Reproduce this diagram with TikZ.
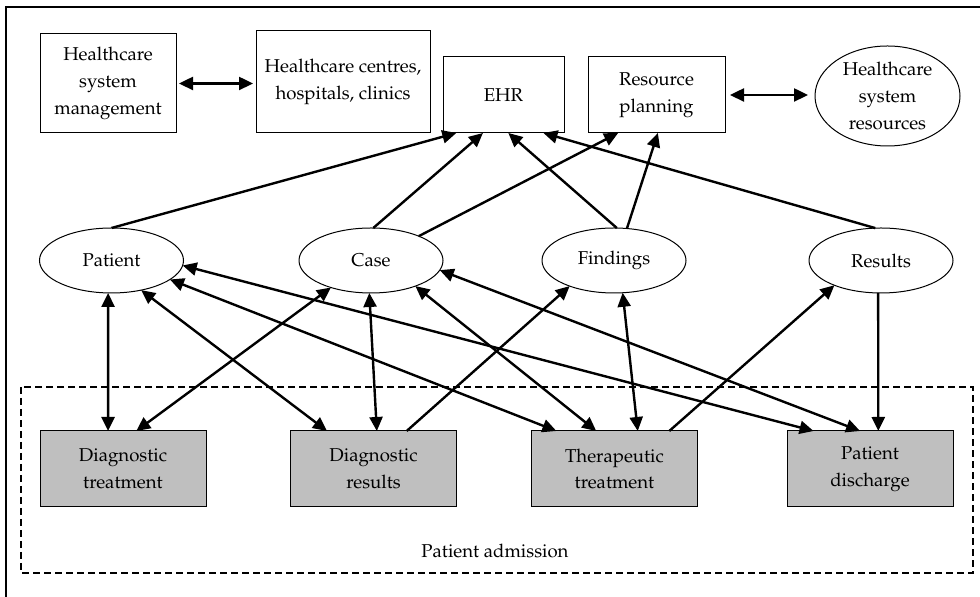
\documentclass[tikz,border=0pt]{standalone}
\usepackage[T1]{fontenc}
\usepackage{mathpazo}
\usetikzlibrary{shapes.geometric,arrows.meta,calc}
\newcommand{\dfont}{\fontsize{9.3}{13.3}\selectfont}
\begin{document}
\begin{tikzpicture}[x=0.5pt,y=-0.5pt,
  box/.style={draw, line width=0.5pt, inner sep=0pt, outer sep=0pt, align=center, font=\dfont},
  gbox/.style={box, fill=gray!50, minimum width=83pt, minimum height=38pt},
  ell/.style={ellipse, draw, line width=0.5pt, inner sep=0pt, outer sep=0pt, align=center, font=\dfont},
  mell/.style={ell, minimum width=72pt, minimum height=32.5pt},
  tip/.tip={Triangle[length=7pt,width=6.5pt]},
  link/.style={line width=1.2pt, -tip},
  dlink/.style={line width=1.2pt, tip-tip}]
\useasboundingbox (0,0) rectangle (980,597);
% outer frame (only top and left visible)
\draw[line width=0.8pt] (6,597) -- (6,7) -- (980,7);
% patient admission region
\draw[dashed, dash pattern=on 3.5pt off 2pt, line width=0.6pt] (21,387) rectangle (973,573);
\node[font=\dfont] (adm) at (495,551) {Patient admission};
% top row
\node[box, minimum width=68pt, minimum height=49.5pt] (hsm) at (108,83.5) {Healthcare\\system\\management};
\node[box, minimum width=87pt, minimum height=51pt] (hchc) at (343,82) {Healthcare centres,\\hospitals, clinics};
\node[box, minimum width=60.5pt, minimum height=38pt] (ehr) at (503.5,95) {EHR};
\node[box, minimum width=68.5pt, minimum height=38pt] (rp) at (656.5,95) {Resource\\planning};
\node[ell, minimum width=72.5pt, minimum height=50pt] (hsr) at (887.5,96) {Healthcare\\system\\resources};
% middle row
\node[mell] (pat) at (111.5,260.5) {Patient};
\node[mell] (case) at (371,260.5) {Case};
\node[mell] (find) at (614,260.5) {Findings};
\node[mell] (res) at (881,260.5) {Results};
% bottom row
\node[gbox] (dt) at (123,469) {Diagnostic\\treatment};
\node[gbox] (dr) at (373.5,469) {Diagnostic\\results};
\node[gbox] (tt) at (614.5,469) {Therapeutic\\treatment};
\node[gbox] (pd) at (870,469) {Patient\\discharge};
% top connectors
\draw[dlink, shorten <=1.5pt, shorten >=1.5pt] (hsm.east) -- (hsm.east -| hchc.west);
\draw[dlink, shorten <=2.5pt, shorten >=3.5pt] (rp.east) -- (rp.east -| hsr.west);
\draw[link] (pat.north) -- ($(ehr.south west)!0.11!(ehr.south east)$);
\draw[link] (case.86) -- ($(ehr.south west)!0.33!(ehr.south east)$);
\draw[link] (case.27) -- ($(rp.south west)!0.22!(rp.south east)$);
\draw[link] (find.85) -- ($(ehr.south west)!0.54!(ehr.south east)$);
\draw[link] (find.68) -- ($(rp.south west)!0.51!(rp.south east)$);
\draw[link] (res.100) -- ($(ehr.south west)!0.83!(ehr.south east)$);
% lower connectors
\draw[dlink] (pat.264) -- ($(dt.north west)!0.41!(dt.north east)$);
\draw[dlink] (case.214) -- ($(dt.north west)!0.58!(dt.north east)$);
\draw[dlink] (pat.315) -- ($(dr.north west)!0.22!(dr.north east)$);
\draw[dlink] (case.267) -- ($(dr.north west)!0.52!(dr.north east)$);
\draw[dlink] (pat.342) -- ($(tt.north west)!0.15!(tt.north east)$);
\draw[dlink] (case.330) -- ($(tt.north west)!0.39!(tt.north east)$);
\draw[dlink] (pat.356) -- ($(pd.north west)!0.16!(pd.north east)$);
\draw[dlink] (case.352) -- ($(pd.north west)!0.44!(pd.north east)$);
\draw[link] ($(dr.north west)!0.70!(dr.north east)$) -- (find.210);
\draw[dlink] (find.285) -- ($(tt.north west)!0.64!(tt.north east)$);
\draw[link] ($(tt.north west)!0.83!(tt.north east)$) -- (res.208);
\draw[link] (res.265) -- ($(pd.north west)!0.55!(pd.north east)$);
\end{tikzpicture}
\end{document}
